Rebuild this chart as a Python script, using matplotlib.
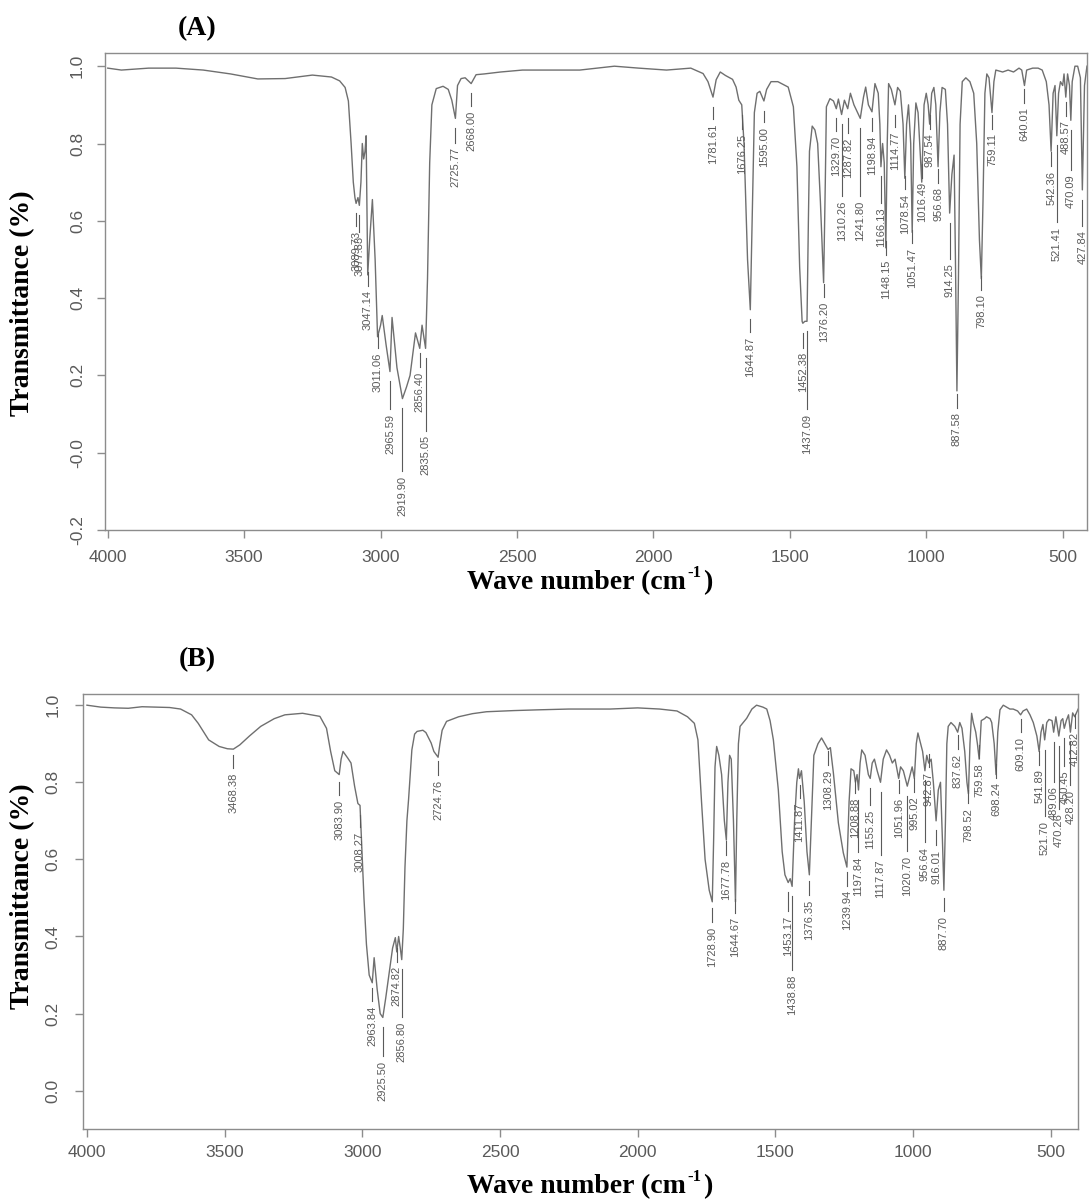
import numpy as np
import matplotlib
matplotlib.use("Agg")
import matplotlib.pyplot as plt
from matplotlib.text import Annotation
from matplotlib.ticker import FixedLocator, FixedFormatter

# ------------------------------------------------------------------
# FTIR spectra (wavenumber, T)
# ------------------------------------------------------------------

# spectrum (A)
A_WN = [4000, 3950, 3850, 3750, 3650, 3550, 3450, 3350, 3250, 3180, 3150, 3130,
        3118, 3108, 3100, 3094, 3089.73, 3083, 3077.83, 3072, 3067, 3062, 3057,
        3053, 3047.14, 3040, 3030, 3020, 3011.06, 3000, 2994, 2980, 2965.59,
        2958, 2940, 2919.90, 2905, 2892, 2872, 2856.40, 2848, 2835.05, 2828,
        2820, 2812, 2796, 2771, 2752, 2739, 2725.77, 2718, 2705, 2690, 2668.00,
        2650, 2620, 2560, 2480, 2350, 2270, 2143, 2054, 1952, 1863, 1818, 1800,
        1781.61, 1770, 1755, 1736, 1710, 1697, 1687, 1676.25, 1668, 1655,
        1644.87, 1638, 1630, 1620, 1610, 1595.00, 1585, 1569, 1544, 1506, 1487,
        1474, 1464, 1455, 1452.38, 1445, 1437.09, 1432, 1428, 1418, 1408, 1398,
        1388, 1376.20, 1370, 1366, 1353, 1340, 1329.70, 1322, 1310.26, 1300,
        1287.82, 1278, 1265, 1241.80, 1230, 1222, 1212, 1198.94, 1188, 1176,
        1170, 1166.13, 1160, 1154, 1148.15, 1143, 1138, 1128, 1114.77, 1105,
        1095, 1085, 1078.54, 1072, 1065, 1057, 1051.47, 1046, 1038, 1030,
        1016.49, 1008, 1000, 993, 987.54, 980, 972, 965, 956.68, 950, 942, 930,
        922, 914.25, 906, 898, 893, 887.58, 882, 876, 868, 855, 840, 826, 815,
        805, 798.10, 792, 785, 778, 770, 759.11, 752, 745, 720, 700, 680, 660,
        650, 640.01, 632, 610, 590, 575, 560, 550, 542.36, 535, 528, 521.41,
        515, 508, 500, 495, 488.57, 482, 475, 470.09, 465, 455, 445, 435,
        427.84, 420, 411]
A_T = [0.995, 0.99, 0.995, 0.995, 0.99, 0.98, 0.967, 0.968, 0.977, 0.972, 0.962, 0.945,
       0.91, 0.80, 0.70, 0.66, 0.645, 0.66, 0.64, 0.70, 0.80, 0.76, 0.78,
       0.82, 0.46, 0.55, 0.655, 0.50, 0.30, 0.33, 0.355, 0.28, 0.21,
       0.35, 0.22, 0.14, 0.17, 0.20, 0.31, 0.27, 0.33, 0.27, 0.45,
       0.75, 0.90, 0.942, 0.948, 0.94, 0.912, 0.865, 0.95, 0.968, 0.97, 0.955,
       0.978, 0.98, 0.985, 0.99, 0.99, 0.99, 1.0, 0.995, 0.99, 0.995, 0.981, 0.96,
       0.92, 0.965, 0.985, 0.976, 0.966, 0.946, 0.912, 0.90, 0.80, 0.50,
       0.37, 0.60, 0.88, 0.93, 0.935, 0.91, 0.94, 0.96, 0.96, 0.946, 0.895,
       0.74, 0.48, 0.34, 0.335, 0.34, 0.34, 0.60, 0.78, 0.845, 0.835, 0.80,
       0.65, 0.44, 0.70, 0.895, 0.916, 0.91, 0.89, 0.915, 0.875, 0.912,
       0.89, 0.93, 0.90, 0.865, 0.92, 0.946, 0.90, 0.882, 0.955, 0.93,
       0.85, 0.74, 0.80, 0.75, 0.53, 0.80, 0.955, 0.94, 0.90, 0.945,
       0.935, 0.85, 0.71, 0.85, 0.90, 0.80, 0.57, 0.80, 0.905, 0.88,
       0.70, 0.90, 0.93, 0.90, 0.85, 0.93, 0.945, 0.90, 0.74, 0.88, 0.945, 0.94,
       0.85, 0.62, 0.72, 0.77, 0.50, 0.16, 0.45, 0.85, 0.96, 0.97, 0.96, 0.93, 0.80,
       0.55, 0.45, 0.65, 0.93, 0.98, 0.97, 0.88, 0.96, 0.99, 0.985, 0.99, 0.985, 0.995,
       0.99, 0.95, 0.99, 0.995, 0.995, 0.99, 0.96, 0.90, 0.78, 0.93, 0.95, 0.82,
       0.93, 0.96, 0.95, 0.98, 0.92, 0.98, 0.95, 0.86, 0.96, 1.0, 1.0, 0.97,
       0.68, 0.95, 1.0]

A_PEAKS = [3089.73, 3077.83, 3047.14, 3011.06, 2965.59, 2919.90, 2856.40, 2835.05,
           2725.77, 2668.00, 1781.61, 1676.25, 1644.87, 1595.00, 1452.38, 1437.09,
           1376.20, 1329.70, 1310.26, 1287.82, 1241.80, 1198.94, 1166.13, 1148.15,
           1114.77, 1078.54, 1051.47, 1016.49, 987.54, 956.68, 914.25, 887.58,
           798.10, 759.11, 640.01, 542.36, 521.41, 488.57, 470.09, 427.84]
# where each peak label starts (top of the rotated text)
A_LABEL_TOP = [0.575, 0.56, 0.42, 0.26, 0.10, -0.06, 0.21, 0.045,
               0.79, 0.886, 0.852, 0.826, 0.30, 0.843, 0.26, 0.10,
               0.39, 0.82, 0.653, 0.815, 0.653, 0.82, 0.635, 0.50,
               0.83, 0.67, 0.53, 0.70, 0.826, 0.687, 0.49, 0.105,
               0.41, 0.826, 0.894, 0.73, 0.585, 0.86, 0.72, 0.575]

# spectrum (B)
B_WN = [4000, 3950, 3900, 3850, 3800, 3750, 3700, 3660, 3620, 3596, 3558, 3520,
        3490, 3468.38, 3445, 3410, 3369, 3320, 3281, 3217, 3154, 3130, 3115,
        3100, 3083.90, 3077, 3070, 3053, 3041, 3028, 3016, 3008.27, 3000, 2994,
        2985, 2975, 2963.84, 2957, 2946, 2935, 2925.50, 2915, 2902, 2890, 2880,
        2874.82, 2868, 2862, 2856.80, 2851, 2845, 2838, 2832, 2820, 2810, 2801,
        2780, 2769, 2750, 2740, 2724.76, 2718, 2710, 2694, 2650, 2600, 2549,
        2450, 2359, 2250, 2100, 2000, 1920, 1857, 1819, 1794, 1781, 1768, 1755,
        1740, 1728.90, 1724, 1719, 1713, 1705, 1695, 1685, 1677.78, 1672, 1666,
        1660, 1652, 1644.67, 1640, 1634, 1628, 1604, 1585, 1568, 1545, 1531,
        1519, 1507, 1489, 1475, 1465, 1453.17, 1446, 1438.88, 1430, 1422, 1416,
        1411.87, 1405, 1395, 1385, 1376.35, 1368, 1360, 1345, 1332, 1320,
        1308.29, 1300, 1289, 1271, 1253, 1239.94, 1232, 1225, 1215, 1208.88,
        1203, 1197.84, 1192, 1186, 1174, 1162, 1155.25, 1148, 1140, 1130,
        1117.87, 1108, 1096, 1085, 1075, 1065, 1051.96, 1045, 1035, 1020.70,
        1010, 1003, 995.02, 988, 982, 972, 965, 956.64, 950, 942.87, 934, 926,
        916.01, 908, 900, 893, 887.70, 882, 877, 872, 862, 848, 837.62, 830,
        822, 812, 804, 798.52, 793, 787, 781, 772, 766, 759.58, 752, 740, 733,
        720, 714, 705, 698.24, 692, 684, 672, 660, 648, 636, 620, 609.10, 600,
        587, 575, 563, 550, 541.89, 535, 528, 521.70, 514, 506, 495, 489.06,
        481, 470.26, 462, 456, 450.45, 443, 435, 428.20, 420, 412.82, 400]
B_T = [1.0, 0.995, 0.993, 0.992, 0.996, 0.995, 0.994, 0.99, 0.975, 0.953, 0.91, 0.893,
       0.887, 0.886, 0.897, 0.92, 0.945, 0.965, 0.975, 0.979, 0.971, 0.94, 0.88,
       0.83, 0.82, 0.86, 0.88, 0.863, 0.85, 0.79, 0.745, 0.74, 0.60, 0.50,
       0.38, 0.30, 0.28, 0.345, 0.263, 0.20, 0.19, 0.24, 0.307, 0.37, 0.397,
       0.36, 0.40, 0.37, 0.34, 0.42, 0.58, 0.70, 0.755, 0.884, 0.925, 0.932,
       0.935, 0.929, 0.902, 0.88, 0.865, 0.90, 0.935, 0.958, 0.97, 0.978, 0.983,
       0.986, 0.988, 0.99, 0.99, 0.993, 0.99, 0.985, 0.97, 0.953, 0.91, 0.75, 0.60,
       0.52, 0.49, 0.65, 0.84, 0.893, 0.87, 0.82, 0.70, 0.65, 0.80, 0.87,
       0.86, 0.70, 0.49, 0.70, 0.90, 0.945, 0.966, 0.99, 1.0, 0.995, 0.99,
       0.96, 0.91, 0.78, 0.62, 0.56, 0.54, 0.55, 0.53, 0.70, 0.80, 0.835,
       0.81, 0.83, 0.75, 0.62, 0.56, 0.72, 0.87, 0.90, 0.915, 0.90,
       0.885, 0.89, 0.824, 0.695, 0.617, 0.58, 0.75, 0.835, 0.83, 0.80,
       0.82, 0.78, 0.85, 0.884, 0.87, 0.82, 0.81, 0.85, 0.86, 0.83,
       0.80, 0.86, 0.884, 0.87, 0.85, 0.86, 0.81, 0.84, 0.83, 0.79,
       0.82, 0.84, 0.81, 0.90, 0.928, 0.90, 0.88, 0.83, 0.87, 0.85, 0.86, 0.80,
       0.70, 0.78, 0.80, 0.65, 0.52, 0.70, 0.90, 0.945, 0.955, 0.945, 0.93, 0.955,
       0.94, 0.88, 0.80, 0.77, 0.90, 0.979, 0.955, 0.93, 0.90, 0.86, 0.96, 0.965, 0.97,
       0.965, 0.955, 0.90, 0.82, 0.93, 0.988, 1.0, 0.995, 0.99, 0.99, 0.985, 0.975, 0.985,
       0.99, 0.975, 0.955, 0.92, 0.88, 0.93, 0.95, 0.91, 0.955, 0.963, 0.96, 0.93,
       0.97, 0.92, 0.96, 0.965, 0.94, 0.96, 0.975, 0.93, 0.98, 0.97, 0.99]

B_PEAKS = [3468.38, 3083.90, 3008.27, 2963.84, 2925.50, 2874.82, 2856.80, 2724.76,
           1728.90, 1677.78, 1644.67, 1453.17, 1438.88, 1411.87, 1376.35, 1308.29,
           1239.94, 1208.88, 1197.84, 1155.25, 1117.87, 1051.96, 1020.70, 995.02,
           956.64, 942.87, 916.01, 887.70, 837.62, 798.52, 759.58, 698.24,
           609.10, 541.89, 521.70, 489.06, 470.26, 450.45, 428.20, 412.82]
B_LABEL_TOP = [0.825, 0.755, 0.672, 0.22, 0.077, 0.323, 0.178, 0.807,
               0.426, 0.60, 0.45, 0.453, 0.30, 0.746, 0.496, 0.833,
               0.52, 0.76, 0.607, 0.73, 0.60, 0.76, 0.61, 0.763,
               0.633, 0.827, 0.625, 0.453, 0.875, 0.734, 0.85, 0.80,
               0.918, 0.833, 0.70, 0.79, 0.72, 0.83, 0.78, 0.93]

X_TICKS = [4000, 3500, 3000, 2500, 2000, 1500, 1000, 500]
A_YTICKS = [1.0, 0.8, 0.6, 0.4, 0.2, 0.0, -0.2]
A_YTICK_LABELS = ["1.0", "0.8", "0.6", "0.4", "0.2", "-0.0", "-0.2"]
B_YTICKS = [1.0, 0.8, 0.6, 0.4, 0.2, 0.0]
B_YTICK_LABELS = ["1.0", "0.8", "0.6", "0.4", "0.2", "0.0"]

# ------------------------------------------------------------------
LINE = "#6f6f6f"
FRAME = "#8c8c8c"
TXT = "#5a5a5a"

plt.rcParams["font.family"] = ["Liberation Sans", "DejaVu Sans"]
SERIF = dict(family=["Liberation Serif", "DejaVu Serif"], weight="bold")


def style_axes(ax, yticks, ylabels, xpad, ypad):
    for s in ax.spines.values():
        s.set_color(FRAME)
        s.set_linewidth(1.0)
    ax.xaxis.set_major_locator(FixedLocator(X_TICKS))
    ax.set_xticklabels([str(v) for v in X_TICKS])
    ax.yaxis.set_major_locator(FixedLocator(yticks))
    ax.yaxis.set_major_formatter(FixedFormatter(ylabels))
    ax.tick_params(axis="both", direction="out", length=5.5, width=1.0,
                   color=FRAME, labelcolor=TXT, labelsize=12.5)
    ax.tick_params(axis="x", pad=xpad)
    ax.tick_params(axis="y", pad=ypad)
    for lab in ax.get_yticklabels():
        lab.set_rotation(90)
        lab.set_va("center")
        lab.set_ha("center")


def annotate_peaks(ax, wn, tr, peaks, tops):
    lookup = dict(zip(wn, tr))
    for p, top in zip(peaks, tops):
        t_min = lookup[p]
        y_end = top + 0.012
        y_start = t_min - 0.025
        if y_start - y_end < 0.03:
            y_start = y_end + 0.035
        ax.plot([p, p], [y_end, y_start], color=TXT, lw=0.8)
        ax.text(p, top, f"{p:.2f}", rotation=90, ha="center", va="top",
                fontsize=8, color=TXT)


def draw_panel(ax, wn, tr, peaks, tops, xlim, ylim, yticks, ylabels, xpad, ypad):
    ax.plot(wn, tr, color=LINE, lw=1.0)
    annotate_peaks(ax, wn, tr, peaks, tops)
    ax.set_xlim(*xlim)
    ax.set_ylim(*ylim)
    style_axes(ax, yticks, ylabels, xpad, ypad)


def wave_label(fig, x0, yc):
    # "Wave number (cm-1)" built from three pieces so the superscript keeps a plain hyphen
    main = fig.text(x0, yc, "Wave number (cm", fontsize=20, ha="left",
                    va="center", **SERIF)
    sup = fig.add_artist(Annotation(
        "-1", xy=(1, 1), xycoords=main, xytext=(1, 4), textcoords="offset points",
        ha="left", va="top", fontsize=12, **SERIF))
    fig.add_artist(Annotation(
        ")", xy=(1, 0.5), xycoords=(sup, main), xytext=(1, 0),
        textcoords="offset points", ha="left", va="center", fontsize=20, **SERIF))


fig = plt.figure(figsize=(10.9, 12.03), dpi=100)
ax_a = fig.add_axes([0.0966, 0.5594, 0.9006, 0.3965])
ax_b = fig.add_axes([0.0765, 0.0613, 0.9129, 0.3618])

draw_panel(ax_a, A_WN, A_T, A_PEAKS, A_LABEL_TOP, (4009, 411), (-0.2, 1.034),
           A_YTICKS, A_YTICK_LABELS, xpad=9, ypad=14.5)
draw_panel(ax_b, B_WN, B_T, B_PEAKS, B_LABEL_TOP, (4013, 399), (-0.1, 1.029),
           B_YTICKS, B_YTICK_LABELS, xpad=6, ypad=16.5)

fig.text(0.181, 0.9765, "(A)", fontsize=20, ha="center", va="center", **SERIF)
fig.text(0.181, 0.4514, "(B)", fontsize=20, ha="center", va="center", **SERIF)
for yc in (0.748, 0.2552):
    fig.text(0.0207, yc, "Transmittance (%)", rotation=90, fontsize=20,
             ha="center", va="center", **SERIF)
for yc in (0.5154, 0.0133):
    wave_label(fig, 0.4284, yc)

fig.savefig("out.png", dpi=100, facecolor="white")
